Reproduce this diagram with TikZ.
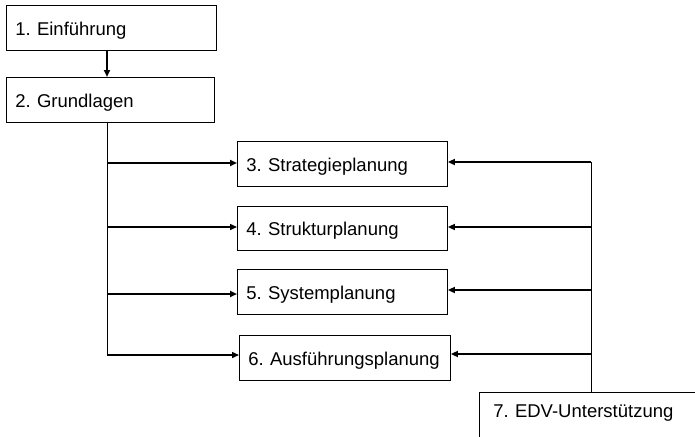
\documentclass[tikz,border=0pt]{standalone}
\usepackage{fontspec}
\setmainfont{Liberation Sans}
\usetikzlibrary{arrows.meta}
\frenchspacing
\tikzset{
  stage/.style={draw=black, line width=0.9pt, minimum height=45pt, inner xsep=9pt,
    align=left, font=\fontsize{18.5}{22}\selectfont, anchor=north west,
    text height=16pt, text depth=1pt,
    execute at begin node={\hyphenpenalty=10000 \exhyphenpenalty=10000}},
  flow/.style={line width=1.9pt, -{Triangle[length=7pt,width=6pt]}},
  flowthin/.style={line width=1.4pt, -{Triangle[length=7pt,width=6pt]}},
  trunk/.style={line width=0.9pt}
}
\begin{document}
\begin{tikzpicture}[x=1pt,y=-1pt]
\clip (0,0) rectangle (695,436);
\fill[white] (0,0) rectangle (695,436);

% planning stages
\node[stage, text width=192pt] (e1) at (6,5) {1. Einführung};
\node[stage, text width=190pt] (g2) at (6,77) {2. Grundlagen};
\node[stage, text width=192pt] (s3) at (237,141) {3. Strategieplanung};
\node[stage, text width=192pt, minimum height=44pt] (s4) at (237,206) {4. Strukturplanung};
\node[stage, text width=192pt] (s5) at (237,269) {5. Systemplanung};
\node[stage, text width=193pt] (s6) at (239,335) {6. Ausführungsplanung};
\node[stage, text width=220pt, minimum height=0pt, inner ysep=0pt, inner xsep=14pt,
  text height=25pt, text depth=30pt] (e7) at (479,392) {7. EDV-Unterstützung};

% left trunk from the foundations
\coordinate (t) at (107,0);
\draw[flow] (e1.south -| t) -- (t |- g2.north);
\coordinate (l3) at (107,163);
\coordinate (l4) at (107,227);
\coordinate (l5) at (107,294);
\coordinate (l6) at (107,355);
\draw[trunk] (t |- g2.south) -- (l6);
\draw[flow] (l3) -- (l3 -| s3.west);
\draw[flowthin] (l4) -- (l4 -| s4.west);
\draw[flow] (l5) -- (l5 -| s5.west);
\draw[flowthin] (l6) -- (l6 -| s6.west);

% right trunk from the IT support
\coordinate (r3) at (591,162);
\coordinate (r4) at (591,227);
\coordinate (r5) at (591,290);
\coordinate (r6) at (591,354);
\draw[trunk] (r3) -- (r3 |- e7.north);
\draw[flow] (r3) -- (r3 -| s3.east);
\draw[flow] (r4) -- (r4 -| s4.east);
\draw[flow] (r5) -- (r5 -| s5.east);
\draw[flow] (r6) -- (r6 -| s6.east);
\end{tikzpicture}
\end{document}
